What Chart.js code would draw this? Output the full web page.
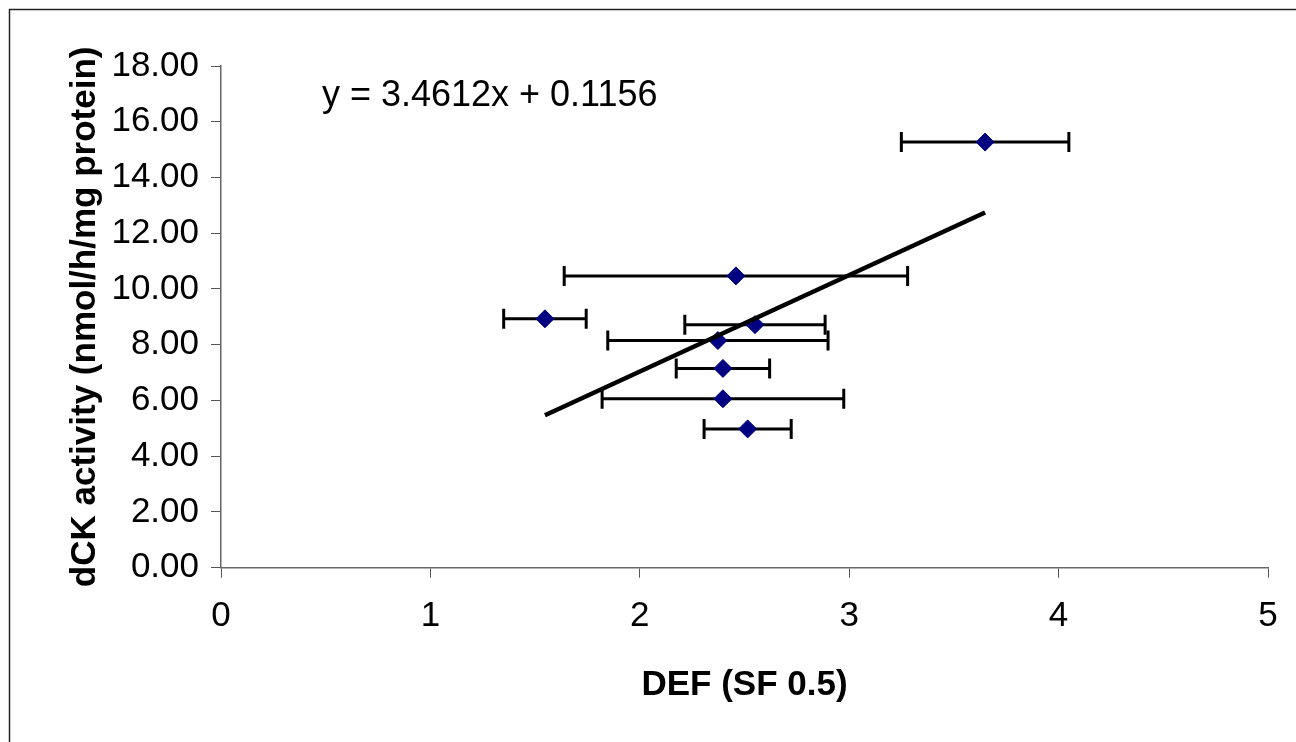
<!DOCTYPE html>
<html>
<head>
<meta charset="utf-8">
<script src="https://cdn.jsdelivr.net/npm/chart.js@4"></script>
<style>
  body { margin: 0; background: #fff; }
  #wrap { width: 1296px; height: 742px; }
</style>
</head>
<body>
<div id="wrap"><canvas id="myChart"></canvas></div>
<script>
// values
var xValues = [3.649, 2.459, 1.547, 2.550, 2.373, 2.397, 2.397, 2.515];
var yValues = [15.27, 10.47, 8.93, 8.72, 8.15, 7.15, 6.06, 4.98];
var xErrors = [0.40, 0.82, 0.197, 0.335, 0.526, 0.223, 0.577, 0.208];

// linear trendline y = 3.4612x + 0.1156
var slope = 3.4612;
var intercept = 0.1156;
var trendX = [1.547, 3.649];
var equationText = "y = 3.4612x + 0.1156";

var FONT = "'Liberation Sans', Arial, sans-serif";
Chart.defaults.font.family = FONT;
Chart.defaults.color = "#000";

var points = xValues.map((v, i) => ({x: v, y: yValues[i]}));
var trend = trendX.map(v => ({x: v, y: slope * v + intercept}));

// horizontal error bars with caps
const errorBars = {
  id: "errorBars",
  beforeDatasetsDraw(chart) {
    const ctx = chart.ctx, xs = chart.scales.x, ys = chart.scales.y;
    ctx.save();
    ctx.strokeStyle = "#000";
    ctx.lineWidth = 3;
    xValues.forEach((v, i) => {
      const py = ys.getPixelForValue(yValues[i]);
      const x0 = xs.getPixelForValue(v - xErrors[i]);
      const x1 = xs.getPixelForValue(v + xErrors[i]);
      ctx.beginPath();
      ctx.moveTo(x0, py); ctx.lineTo(x1, py);
      ctx.moveTo(x0, py - 10); ctx.lineTo(x0, py + 10);
      ctx.moveTo(x1, py - 10); ctx.lineTo(x1, py + 10);
      ctx.stroke();
    });
    ctx.restore();
  }
};

const frameAndLabel = {
  id: "frameAndLabel",
  beforeDraw(chart) {
    const ctx = chart.ctx;
    ctx.save();
    ctx.strokeStyle = "#222";
    ctx.lineWidth = 1.5;
    ctx.strokeRect(9.5, 9.5, 1400, 1000);
    ctx.restore();
  },
  afterDraw(chart) {
    const ctx = chart.ctx, xs = chart.scales.x, ys = chart.scales.y;
    ctx.save();
    ctx.font = "36px " + FONT;
    ctx.fillStyle = "#000";
    ctx.textBaseline = "middle";
    ctx.fillText(equationText, xs.getPixelForValue(0.482), ys.getPixelForValue(16.91));
    ctx.restore();
  }
};

new Chart("myChart", {
  type: "scatter",
  data: {
    datasets: [{
      type: "line",
      data: trend,
      borderColor: "#000",
      borderWidth: 4.5,
      pointRadius: 0,
      fill: false,
      order: 0
    }, {
      data: points,
      pointStyle: "rectRot",
      pointRadius: 9,
      pointBackgroundColor: "#000080",
      pointBorderColor: "#000080",
      pointBorderWidth: 1,
      order: 1
    }]
  },
  options: {
    responsive: true,
    maintainAspectRatio: false,
    devicePixelRatio: 1,
    animation: false,
    layout: { padding: { left: 58, top: 66, right: 28, bottom: 28 } },
    plugins: { legend: { display: false }, tooltip: { enabled: false } },
    scales: {
      x: {
        type: "linear",
        min: 0, max: 5,
        ticks: { stepSize: 1, padding: 18, font: { size: 35 } },
        grid: { drawOnChartArea: false, drawTicks: true, tickLength: 10, tickColor: "#555" },
        border: { color: "#666", width: 1.5 },
        title: { display: true, text: "DEF (SF 0.5)", font: { size: 35, weight: "bold" }, padding: { top: 4, bottom: 8 } },
        afterFit(s) { s.height = 742 - 567.7 - 28; }
      },
      y: {
        min: 0, max: 18,
        ticks: { stepSize: 2, padding: 12, font: { size: 35 }, callback: v => v.toFixed(2) },
        grid: { drawOnChartArea: false, drawTicks: true, tickLength: 10, tickColor: "#555" },
        border: { color: "#666", width: 1.5 },
        title: { display: true, text: "dCK activity (nmol/h/mg protein)", font: { size: 35, weight: "bold" }, padding: { top: 6, bottom: 4 } },
        afterFit(s) { s.width = 221 - 58; }
      }
    }
  },
  plugins: [errorBars, frameAndLabel]
});
</script>
</body>
</html>
